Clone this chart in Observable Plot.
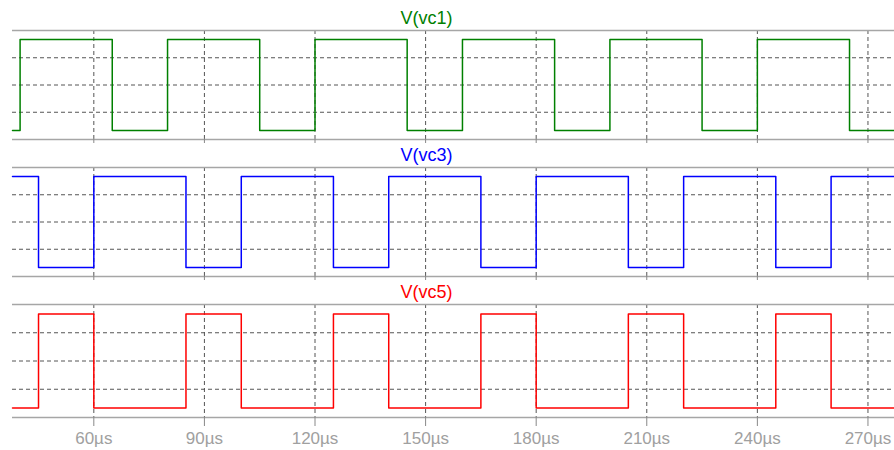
<!DOCTYPE html>
<html>
<head>
<meta charset="utf-8">
<script src="https://cdn.jsdelivr.net/npm/d3@7"></script>
<script src="https://cdn.jsdelivr.net/npm/@observablehq/plot@0.6"></script>
<style>
  html, body { margin: 0; padding: 0; background: #fff; }
  #chart { width: 894px; height: 450px; overflow: hidden; }
  #chart svg { display: block; }
</style>
</head>
<body>
<div id="chart"></div>
<script>
// ---- data ----
const timeDomain = [37.94, 277.2];          // µs, visible window
const tickTimes = [60, 90, 120, 150, 180, 210, 240, 270];
const gridLevels = [1, 2.5, 4];
const levelDomain = [-0.5, 5.5];

const signalNames = ["V(vc1)", "V(vc3)", "V(vc5)"];
const signalColors = ["#008000", "#0000ff", "#ff0000"];

const vc1Times  = [37.94, 40, 65, 80, 105, 120, 145, 160, 185, 200, 225, 240, 265, 277.2];
const vc1Levels = [0, 5, 0, 5, 0, 5, 0, 5, 0, 5, 0, 5, 0, 0];

const vc3Times  = [37.94, 45, 60, 85, 100, 125, 140, 165, 180, 205, 220, 245, 260, 277.2];
const vc3Levels = [5, 0, 5, 0, 5, 0, 5, 0, 5, 0, 5, 0, 5, 5];

const vc5Times  = [37.94, 45, 60, 85, 100, 125, 140, 165, 180, 205, 220, 245, 260, 277.2];
const vc5Levels = [0, 5, 0, 5, 0, 5, 0, 5, 0, 5, 0, 5, 0, 0];

const series = [
  {times: vc1Times, levels: vc1Levels},
  {times: vc3Times, levels: vc3Levels},
  {times: vc5Times, levels: vc5Levels}
];

// ---- layout per panel ----
const panels = [
  {height: 145, marginTop: 30, marginBottom: 6, labels: false},
  {height: 137, marginTop: 22, marginBottom: 6, labels: false},
  {height: 168, marginTop: 22, marginBottom: 33, labels: true}
];

const container = document.getElementById("chart");

panels.forEach((p, i) => {
  const rows = series[i].times.map((t, j) => ({t, v: series[i].levels[j]}));
  const svg = Plot.plot({
    width: 894,
    height: p.height,
    marginLeft: 12,
    marginRight: 0,
    marginTop: p.marginTop,
    marginBottom: p.marginBottom,
    style: {fontFamily: "'Liberation Sans', Arial, sans-serif", background: "#fff", overflow: "visible"},
    x: {domain: timeDomain, axis: null},
    y: {domain: levelDomain, axis: null},
    marks: [
      Plot.ruleY(gridLevels, {stroke: "#555", strokeWidth: 1, strokeDasharray: "4,3"}),
      Plot.ruleX(tickTimes, {stroke: "#555", strokeWidth: 1, strokeDasharray: "4,3"}),
      Plot.ruleY([levelDomain[0], levelDomain[1]], {stroke: "#a6a6a6", strokeWidth: 1.5}),
      Plot.axisX(tickTimes, {
        anchor: "bottom",
        tickSize: p.labels ? 9 : 5,
        tickPadding: 5,
        stroke: "#888",
        strokeDasharray: p.labels ? null : "4,3",
        tickFormat: p.labels ? (d => d + "µs") : (() => ""),
        fontSize: 17,
        fill: "#a0a0a0",
        label: null
      }),
      Plot.line(rows, {x: "t", y: "v", curve: "step-after", stroke: signalColors[i], strokeWidth: 1.5}),
      Plot.text([signalNames[i]], {
        frameAnchor: "top",
        dx: -27,
        dy: -12,
        lineAnchor: "middle",
        textAnchor: "middle",
        fill: signalColors[i],
        fontSize: 18
      })
    ]
  });
  container.appendChild(svg);
});
</script>
</body>
</html>
